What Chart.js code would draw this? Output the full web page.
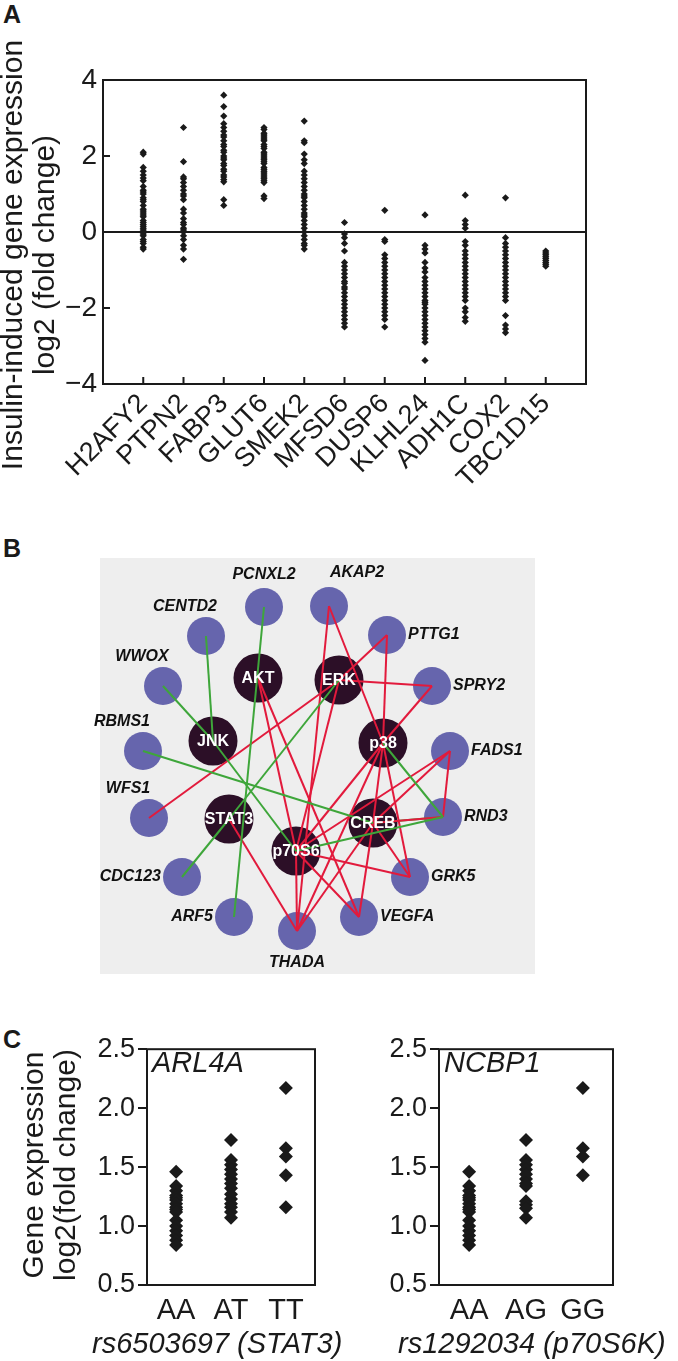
<!DOCTYPE html>
<html>
<head>
  <title>Insulin-induced gene expression</title>
  <script src="https://cdn.jsdelivr.net/npm/chart.js"></script>
  <style>
    body {
      margin: 0;
      background: #fff;
      width: 678px;
      height: 1361px;
      position: relative;
      overflow: hidden;
      font-family: "Liberation Sans", Arial, sans-serif;
    }
    canvas { position: absolute; }
    .tag {
      position: absolute;
      font-weight: bold;
      font-size: 25px;
      color: #1a1a1a;
    }
  </style>
</head>
<body>

  <div class="tag" style="left:3px;top:0px">A</div>
  <div class="tag" style="left:3px;top:534px">B</div>
  <div class="tag" style="left:3px;top:1025px">C</div>

  <canvas id="chartA" width="678" height="490" style="left:0;top:0"></canvas>
  <canvas id="chartB" width="678" height="450" style="left:0;top:540px"></canvas>
  <canvas id="chartC1" width="370" height="331" style="left:0;top:1030px"></canvas>
  <canvas id="chartC2" width="338" height="331" style="left:340px;top:1030px"></canvas>

  <script>
    // ---- panel A: insulin-induced expression, log2 fold change per donor
    const genes = ['H2AFY2', 'PTPN2', 'FABP3', 'GLUT6', 'SMEK2', 'MFSD6', 'DUSP6', 'KLHL24', 'ADH1C', 'COX2', 'TBC1D15'];
    const h2afy2 = [2.1, 2.05, 1.7, 1.6, 1.5, 1.42, 1.35, 1.2, 1.1, 1.05, 1.0, 0.9, 0.85, 0.8, 0.7, 0.6, 0.55, 0.5, 0.45, 0.4, 0.3, 0.25, 0.2, 0.15, 0.1, 0.05, 0.0, -0.05, -0.1, -0.2, -0.25, -0.3, -0.4, -0.45];
    const ptpn2 = [2.75, 1.85, 1.45, 1.4, 1.3, 1.2, 1.1, 1.0, 0.95, 0.85, 0.6, 0.5, 0.35, 0.25, 0.2, 0.1, 0.05, 0.0, -0.1, -0.2, -0.35, -0.45, -0.72];
    const fabp3 = [3.6, 3.3, 3.05, 2.85, 2.75, 2.65, 2.55, 2.5, 2.4, 2.3, 2.25, 2.15, 2.1, 2.0, 1.95, 1.9, 1.8, 1.75, 1.65, 1.6, 1.5, 1.45, 1.38, 1.32, 0.85, 0.7];
    const glut6 = [2.75, 2.7, 2.6, 2.55, 2.5, 2.45, 2.4, 2.3, 2.25, 2.2, 2.1, 2.05, 2.0, 1.95, 1.9, 1.85, 1.8, 1.7, 1.65, 1.6, 1.55, 1.5, 1.45, 1.4, 1.35, 1.3, 0.95, 0.88];
    const smek2 = [2.92, 2.4, 2.35, 2.05, 1.9, 1.8, 1.6, 1.5, 1.4, 1.3, 1.2, 1.1, 1.0, 0.95, 0.9, 0.8, 0.7, 0.6, 0.5, 0.45, 0.4, 0.3, 0.2, 0.1, 0.0, -0.1, -0.2, -0.3, -0.35, -0.45];
    const mfsd6 = [0.25, -0.05, -0.15, -0.3, -0.5, -0.8, -0.9, -1.0, -1.1, -1.2, -1.3, -1.35, -1.45, -1.5, -1.6, -1.7, -1.8, -1.9, -2.0, -2.1, -2.2, -2.3, -2.4, -2.5];
    const dusp6 = [0.57, -0.2, -0.25, -0.6, -0.7, -0.8, -0.9, -1.0, -1.1, -1.2, -1.3, -1.4, -1.5, -1.6, -1.7, -1.8, -1.9, -2.0, -2.1, -2.2, -2.3, -2.5];
    const klhl24 = [0.45, -0.35, -0.45, -0.55, -0.8, -0.95, -1.05, -1.2, -1.3, -1.4, -1.5, -1.6, -1.7, -1.8, -1.85, -1.9, -2.0, -2.1, -2.2, -2.3, -2.4, -2.5, -2.6, -2.7, -2.8, -2.9, -3.38];
    const adh1c = [0.97, 0.3, 0.2, 0.1, -0.25, -0.35, -0.5, -0.6, -0.7, -0.8, -0.9, -1.0, -1.1, -1.2, -1.3, -1.4, -1.5, -1.6, -1.7, -1.8, -2.0, -2.1, -2.25, -2.35];
    const cox2 = [0.9, -0.15, -0.3, -0.4, -0.5, -0.6, -0.7, -0.8, -0.9, -1.0, -1.1, -1.2, -1.3, -1.4, -1.5, -1.6, -1.7, -1.8, -2.2, -2.45, -2.55, -2.65];
    const tbc1d15 = [-0.5, -0.55, -0.6, -0.65, -0.7, -0.75, -0.8, -0.85, -0.9];
    const geneValues = [h2afy2, ptpn2, fabp3, glut6, smek2, mfsd6, dusp6, klhl24, adh1c, cox2, tbc1d15];
    const yTicksA = [-4, -2, 0, 2, 4];

    // ---- panel B: kinase / gene network
    const hubNames = ['AKT', 'ERK', 'JNK', 'p38', 'STAT3', 'CREB', 'p70S6'];
    const hubX = [258, 339, 213, 383, 229, 373, 296];
    const hubY = [678, 680, 741, 743, 819, 823, 851];
    const leafNames = ['PCNXL2', 'AKAP2', 'CENTD2', 'PTTG1', 'WWOX', 'SPRY2', 'RBMS1', 'FADS1', 'WFS1', 'RND3', 'CDC123', 'GRK5', 'ARF5', 'VEGFA', 'THADA'];
    const leafX = [264, 329, 206, 387, 163, 432, 143, 450, 149, 443, 182, 410, 234, 359, 297];
    const leafY = [607, 606, 636, 635, 686, 686, 751, 751, 818, 817, 877, 877, 917, 917, 931];
    const leafSide = ['top', 'topR', 'topL', 'right', 'topL', 'right', 'topL', 'right', 'topL', 'right', 'left', 'right', 'left', 'right', 'bottom'];
    const greenEdges = [
      ['CENTD2', 'JNK'], ['WWOX', 'JNK'], ['PCNXL2', 'ARF5'], ['JNK', 'p70S6'], ['RBMS1', 'CREB'],
      ['ERK', 'STAT3'], ['CDC123', 'STAT3'], ['p38', 'RND3'], ['p70S6', 'RND3']
    ];
    const redEdges = [
      ['AKAP2', 'p38'], ['AKAP2', 'THADA'], ['PTTG1', 'ERK'], ['PTTG1', 'p38'], ['ERK', 'SPRY2'],
      ['SPRY2', 'p38'], ['ERK', 'WFS1'], ['ERK', 'p70S6'], ['AKT', 'p70S6'], ['AKT', 'VEGFA'],
      ['STAT3', 'THADA'], ['p38', 'p70S6'], ['p38', 'THADA'], ['p38', 'CREB'], ['p38', 'GRK5'],
      ['FADS1', 'p70S6'], ['FADS1', 'CREB'], ['FADS1', 'RND3'], ['CREB', 'THADA'], ['CREB', 'VEGFA'],
      ['CREB', 'GRK5'], ['CREB', 'RND3'], ['p70S6', 'GRK5'], ['p70S6', 'THADA'], ['p70S6', 'VEGFA']
    ];
    const greenOnTop = [['CREB', 'RND3']];

    // ---- panel C: expression by genotype
    const genoSTAT3 = ['AA', 'AT', 'TT'];
    const arl4aAA = [1.46, 1.34, 1.3, 1.26, 1.24, 1.22, 1.19, 1.16, 1.14, 1.12, 1.05, 1.0, 0.96, 0.92, 0.88, 0.84];
    const arl4aAT = [1.73, 1.56, 1.52, 1.48, 1.44, 1.4, 1.36, 1.32, 1.27, 1.23, 1.19, 1.16, 1.12, 1.07];
    const arl4aTT = [2.17, 1.66, 1.59, 1.43, 1.16];
    const genoP70 = ['AA', 'AG', 'GG'];
    const ncbp1AA = [1.46, 1.34, 1.3, 1.26, 1.24, 1.22, 1.19, 1.16, 1.14, 1.12, 1.05, 1.0, 0.96, 0.92, 0.88, 0.84];
    const ncbp1AG = [1.73, 1.56, 1.52, 1.48, 1.44, 1.4, 1.36, 1.34, 1.21, 1.18, 1.15, 1.07];
    const ncbp1GG = [2.17, 1.66, 1.59, 1.43];
    const yTicksC = [0.5, 1.0, 1.5, 2.0, 2.5];

    const ink = '#1a1a1a';
    const FONT = '"Liberation Sans", Arial, sans-serif';
    Chart.defaults.font.family = FONT;
    Chart.defaults.color = ink;

    // closed box around the plot area, optional inward tick marks
    function frame(tickIn) {
      return {
        id: 'frame',
        afterDraw(chart) {
          const { ctx, chartArea: a, scales } = chart;
          ctx.save();
          ctx.strokeStyle = ink;
          ctx.lineWidth = 2;
          ctx.strokeRect(a.left, a.top, a.right - a.left, a.bottom - a.top);
          if (tickIn) {
            ctx.beginPath();
            scales.x.ticks.forEach(t => {
              const p = scales.x.getPixelForValue(t.value);
              ctx.moveTo(p, a.bottom); ctx.lineTo(p, a.bottom - tickIn);
            });
            scales.y.ticks.forEach(t => {
              const p = scales.y.getPixelForValue(t.value);
              ctx.moveTo(a.left, p); ctx.lineTo(a.left + tickIn, p);
            });
            ctx.stroke();
          }
          ctx.restore();
        }
      };
    }

    // free text (axis titles that sit off-centre, gene names)
    function notes(items) {
      return {
        id: 'notes',
        afterDraw(chart) {
          const ctx = chart.ctx;
          items.forEach(n => {
            ctx.save();
            ctx.translate(n.x, n.y);
            if (n.rot) ctx.rotate(n.rot * Math.PI / 180);
            ctx.font = n.font;
            ctx.fillStyle = ink;
            ctx.textAlign = n.align || 'left';
            ctx.textBaseline = 'alphabetic';
            ctx.fillText(n.text, 0, 0);
            ctx.restore();
          });
        }
      };
    }

    // ---------------- Panel A ----------------
    const pointsA = geneValues.flatMap((vals, i) => vals.map(v => ({ x: i, y: v })));

    new Chart(document.getElementById('chartA'), {
      type: 'scatter',
      data: {
        datasets: [{
          data: pointsA,
          pointStyle: 'rectRot',
          pointRadius: 3.6,
          backgroundColor: ink,
          borderWidth: 0
        }]
      },
      options: {
        responsive: false,
        animation: false,
        layout: { autoPadding: false, padding: { top: 80, right: 92, left: 0, bottom: 0 } },
        plugins: { legend: { display: false }, tooltip: { enabled: false } },
        scales: {
          x: {
            type: 'linear', min: -1, max: 11,
            afterBuildTicks: s => { s.ticks = genes.map((g, i) => ({ value: i })); },
            afterFit: s => { s.height = 490 - 384; },
            grid: { display: false, drawTicks: false },
            border: { display: false },
            ticks: {
              autoSkip: false, minRotation: 45, maxRotation: 45, padding: 4,
              font: { size: 27 },
              callback: v => genes[v]
            }
          },
          y: {
            min: -4, max: 4,
            afterBuildTicks: s => { s.ticks = yTicksA.map(v => ({ value: v })); },
            afterFit: s => { s.width = 103; },
            grid: {
              drawTicks: false, lineWidth: 2,
              color: c => (c.tick && c.tick.value === 0) ? ink : 'rgba(0,0,0,0)'
            },
            border: { display: false },
            ticks: {
              padding: 6,
              font: { size: 28 },
              callback: v => v < 0 ? '\u2212' + Math.abs(v) : String(v)
            }
          }
        }
      },
      plugins: [frame(7), notes([
        { text: 'Insulin-induced gene expression', x: 22, y: 255, rot: -90, align: 'center', font: '30px ' + FONT },
        { text: 'log2 (fold change)', x: 54, y: 255, rot: -90, align: 'center', font: '30px ' + FONT }
      ])]
    });

    // ---------------- Panel B ----------------
    const nodePos = {};
    hubNames.forEach((n, i) => { nodePos[n] = { x: hubX[i], y: hubY[i] }; });
    leafNames.forEach((n, i) => { nodePos[n] = { x: leafX[i], y: leafY[i] }; });

    const edgeSet = (list, color) => list.map(([a, b]) => ({
      type: 'line',
      data: [nodePos[a], nodePos[b]],
      borderColor: color,
      borderWidth: 2,
      pointRadius: 0,
      clip: false
    }));

    const networkLabels = {
      id: 'networkLabels',
      beforeDatasetsDraw(chart) {
        const { ctx, scales: { x, y } } = chart;
        ctx.save();
        ctx.fillStyle = '#eeeeee';
        const x0 = x.getPixelForValue(100), x1 = x.getPixelForValue(535);
        const y0 = y.getPixelForValue(558), y1 = y.getPixelForValue(974);
        ctx.fillRect(x0, y0, x1 - x0, y1 - y0);
        ctx.restore();
      },
      afterDatasetsDraw(chart) {
        const { ctx, scales: { x, y } } = chart;
        ctx.save();
        ctx.textBaseline = 'middle';
        ctx.fillStyle = '#ffffff';
        ctx.font = 'bold 16px ' + FONT;
        ctx.textAlign = 'center';
        hubNames.forEach((n, i) => ctx.fillText(n, x.getPixelForValue(hubX[i]), y.getPixelForValue(hubY[i]) + 1));
        ctx.fillStyle = '#111111';
        ctx.font = 'italic bold 16px ' + FONT;
        leafNames.forEach((n, i) => {
          let px = x.getPixelForValue(leafX[i]), py = y.getPixelForValue(leafY[i]);
          const side = leafSide[i];
          if (side === 'top') { ctx.textAlign = 'center'; py -= 32; }
          else if (side === 'bottom') { ctx.textAlign = 'center'; py += 32; }
          else if (side === 'topL') { ctx.textAlign = 'center'; px -= 21; py -= 29; }
          else if (side === 'topR') { ctx.textAlign = 'center'; px += 28; py -= 33; }
          else if (side === 'left') { ctx.textAlign = 'right'; px -= 21; }
          else { ctx.textAlign = 'left'; px += 21; }
          ctx.fillText(n, px, py);
        });
        ctx.restore();
      }
    };

    new Chart(document.getElementById('chartB'), {
      type: 'scatter',
      data: {
        datasets: [
          ...edgeSet(greenEdges, '#3ea63a'),
          ...edgeSet(redEdges, '#e21a3c'),
          ...edgeSet(greenOnTop, '#3ea63a'),
          {
            data: leafNames.map((n, i) => ({ x: leafX[i], y: leafY[i] })),
            pointRadius: 19, backgroundColor: '#6665ad', borderWidth: 0, clip: false
          },
          {
            data: hubNames.map((n, i) => ({ x: hubX[i], y: hubY[i] })),
            pointRadius: 24.5, backgroundColor: '#2c0f27', borderWidth: 0, clip: false
          }
        ]
      },
      options: {
        responsive: false,
        animation: false,
        layout: { autoPadding: false, padding: 0 },
        plugins: { legend: { display: false }, tooltip: { enabled: false } },
        scales: {
          x: { type: 'linear', display: false, min: 0, max: 678 },
          y: { type: 'linear', display: false, min: 540, max: 990, reverse: true }
        }
      },
      plugins: [networkLabels]
    });

    // ---------------- Panel C ----------------
    function genotypeChart(id, cats, groups, area, texts) {
      const pts = groups.flatMap((vals, i) => vals.map(v => ({ x: i, y: v })));
      return new Chart(document.getElementById(id), {
        type: 'scatter',
        data: {
          datasets: [{
            data: pts,
            pointStyle: 'rectRot',
            pointRadius: 7,
            backgroundColor: ink,
            borderWidth: 0
          }]
        },
        options: {
          responsive: false,
          animation: false,
          layout: { autoPadding: false, padding: { top: 14, right: area.right, left: 0, bottom: 0 } },
          plugins: { legend: { display: false }, tooltip: { enabled: false } },
          scales: {
            x: {
              type: 'linear', min: -0.53, max: 2.53,
              afterBuildTicks: s => { s.ticks = cats.map((c, i) => ({ value: i })); },
              afterFit: s => { s.height = 76; },
              grid: { display: false, drawTicks: false },
              border: { display: false },
              ticks: { padding: 9, font: { size: 29 }, callback: v => cats[v] }
            },
            y: {
              min: 0.5, max: 2.5,
              afterBuildTicks: s => { s.ticks = yTicksC.map(v => ({ value: v })); },
              afterFit: s => { s.width = area.left; },
              grid: { drawOnChartArea: false, drawTicks: true, tickLength: 9, color: ink, lineWidth: 2 },
              border: { display: false },
              ticks: { padding: 3, font: { size: 27 }, callback: v => v.toFixed(1) }
            }
          }
        },
        plugins: [frame(0), notes(texts)]
      });
    }

    genotypeChart('chartC1', genoSTAT3, [arl4aAA, arl4aAT, arl4aTT],
      { left: 147, right: 55 },
      [
        { text: 'ARL4A', x: 152, y: 42, font: 'italic 29px ' + FONT },
        { text: 'rs6503697 (STAT3)', x: 92, y: 323, font: 'italic 29px ' + FONT },
        { text: 'Gene expression', x: 43, y: 135, rot: -90, align: 'center', font: '30px ' + FONT },
        { text: 'log2(fold change)', x: 75, y: 135, rot: -90, align: 'center', font: '30px ' + FONT }
      ]);

    genotypeChart('chartC2', genoP70, [ncbp1AA, ncbp1AG, ncbp1GG],
      { left: 99, right: 65 },
      [
        { text: 'NCBP1', x: 104, y: 42, font: 'italic 29px ' + FONT },
        { text: 'rs1292034 (p70S6K)', x: 58, y: 323, font: 'italic 29px ' + FONT }
      ]);
  </script>
</body>
</html>
